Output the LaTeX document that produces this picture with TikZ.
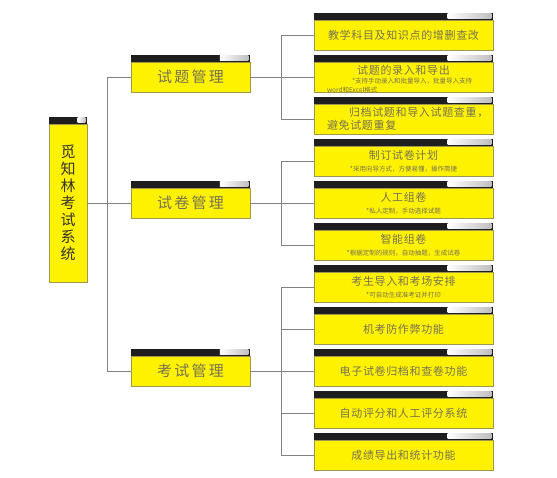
\documentclass[tikz,border=0pt]{standalone}
\usepackage{fontspec}
\newfontfamily\cjk{Noto Sans CJK SC}
\newfontfamily\cjkwide{Noto Sans CJK SC}[LetterSpace=15]
\newfontfamily\cjkmid{Noto Sans CJK SC}[LetterSpace=6]
\usetikzlibrary{calc}
\definecolor{boxyellow}{RGB}{255,242,0}
\definecolor{boxedge}{RGB}{160,150,80}
\definecolor{boxtext}{RGB}{118,115,88}
\definecolor{barblack}{RGB}{30,30,30}
\definecolor{linkgray}{RGB}{130,130,130}

\tikzset{
  box/.style={draw=boxedge, line width=0.8pt, fill=boxyellow, inner sep=0pt, text=boxtext},
  rootbox/.style={box, minimum width=38pt, minimum height=158pt, text=black!80,
                  font=\cjk\fontsize{15}{17}\selectfont, align=center},
  groupbox/.style={box, minimum width=119pt, minimum height=30pt,
                   font=\cjkwide\fontsize{15}{17}\selectfont},
  itembox/.style={box, minimum width=179pt, minimum height=30pt,
                  font=\cjkmid\fontsize{11}{12}\selectfont, align=center},
  link/.style={draw=linkgray, line width=0.8pt}
}
\newcommand{\note}[1]{{\cjk\fontsize{6.5}{8}\selectfont #1}}
\newcommand{\titlebar}[1]{%
  \fill[barblack] ([yshift=7pt]#1.north west) rectangle (#1.north east);
  \shade[left color=white, right color=gray!50]
    ($([yshift=6pt]#1.north west)!0.745!([yshift=6pt]#1.north east)$)
    rectangle ([xshift=-2pt,yshift=1pt]#1.north east);}

\begin{document}
\begin{tikzpicture}[x=1pt, y=-1pt]
  \useasboundingbox (0,0) rectangle (557,477);

  % root and groups
  \node[rootbox] (root) at (68,203) {觅\\知\\林\\考\\试\\系\\统};
  \node[groupbox] (tm) at (190.5,77) {试题管理};
  \node[groupbox] (sj) at (190.5,203) {试卷管理};
  \node[groupbox] (ks) at (190.5,371) {考试管理};

  % items
  \node[itembox] (b1) at (403.5,35) {教学科目及知识点的增删查改};
  \node[itembox] (b2) at (403.5,77) {\parbox[c][28pt][c]{170pt}{\centering
    \lineskiplimit=-20pt
    \vspace*{4pt}
    试题的录入和导出\\[-3pt]
    \note{\makebox[153pt][l]{\hspace*{25pt}*支持手动录入和批量导入，批量导入支持}}\\[-3pt]
    \note{\makebox[153pt][l]{word和Excel格式}}}};
  \node[itembox] (b3) at (403.5,119) {\makebox[153pt][l]{\hspace*{22pt}归档试题和导入试题查重，}\\[1pt]
    \makebox[153pt][l]{避免试题重复}};
  \node[itembox] (b4) at (403.5,161) {制订试卷计划\\\note{*采用向导方式，方便易懂，操作简捷}};
  \node[itembox] (b5) at (403.5,203) {人工组卷\\\note{*私人定制，手动选择试题}};
  \node[itembox] (b6) at (403.5,245) {智能组卷\\\note{*根据定制的规则，自动抽题，生成试卷}};
  \node[itembox] (b7) at (403.5,287) {考生导入和考场安排\\\note{*可自动生成准考证并打印}};
  \node[itembox] (b8) at (403.5,329) {机考防作弊功能};
  \node[itembox] (b9) at (403.5,371) {电子试卷归档和查卷功能};
  \node[itembox] (b10) at (403.5,413) {自动评分和人工评分系统};
  \node[itembox] (b11) at (403.5,455) {成绩导出和统计功能};

  \foreach \n in {root,tm,sj,ks,b1,b2,b3,b4,b5,b6,b7,b8,b9,b10,b11}
    {\titlebar{\n}}

  % connectors
  \draw[link] (root.east) -- (sj.west);
  \draw[link] (tm.west) -- ++(-23,0) |- (ks.west);
  \draw[link] (tm.east) -- (b2.west);
  \draw[link] (b1.west) -- ++(-32,0) |- (b3.west);
  \draw[link] (sj.east) -- (b5.west);
  \draw[link] (b4.west) -- ++(-32,0) |- (b6.west);
  \draw[link] (ks.east) -- (b9.west);
  \draw[link] (b7.west) -- ++(-32,0) |- (b11.west);
  \foreach \i in {8,10}
    \draw[link] (b\i.west) -- ++(-32,0);
\end{tikzpicture}
\end{document}
